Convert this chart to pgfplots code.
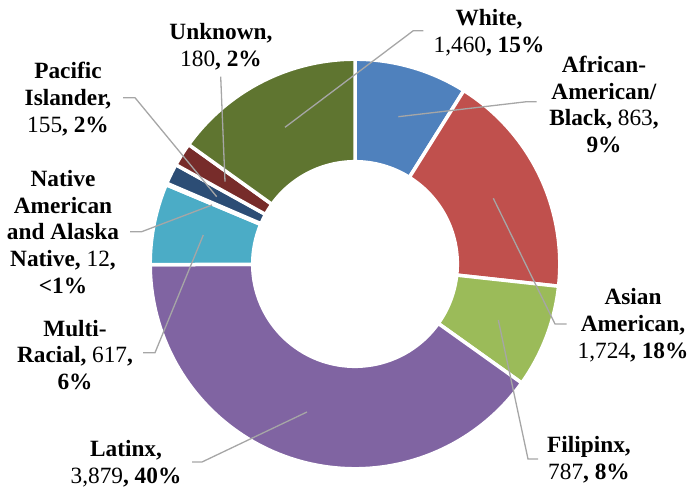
\documentclass[border=0pt]{standalone}
\usepackage{pgfplots}
\usepackage{pgfplotstable}
\pgfplotsset{compat=1.18}
\usepackage{fontspec}
\setmainfont{Liberation Serif}

\definecolor{cBlue}{HTML}{4F81BD}
\definecolor{cRed}{HTML}{C0504D}
\definecolor{cGreen}{HTML}{9BBB59}
\definecolor{cPurple}{HTML}{8064A2}
\definecolor{cCyan}{HTML}{4BACC6}
\definecolor{cOrange}{HTML}{F79646}
\definecolor{cDBlue}{HTML}{2C4D75}
\definecolor{cDRed}{HTML}{772C2A}
\definecolor{cOlive}{HTML}{5F7530}
\definecolor{leader}{HTML}{A6A6A6}

\tikzset{lbl/.style={align=center, inner sep=0pt, font={\fontsize{23.4pt}{27pt}\selectfont}},
         ldr/.style={leader, line width=1.3bp}}

% Students by race/ethnicity, clockwise from 12 o'clock
\pgfplotstableread{
name value
African 863
Asian 1724
Filipinx 787
Latinx 3879
Multi 617
Native 12
Pacific 155
Unknown 180
White 1460
}\racetable

\def\cx{355}
\def\cy{227}
\def\Rout{204.8}
\def\Rin{102.3}

\newcommand\slice[3]{%
  \edef\lo{\csname ang#2\endcsname}\edef\hi{\csname ang#1\endcsname}%
  \edef\temp{\noexpand\addplot[fill=#3, draw=white, line width=3.5bp, line join=miter, domain=\lo:\hi, samples=90, variable=\noexpand\t, no markers]
    ({\cx+\Rout*cos(\noexpand\t)},{\cy+\Rout*sin(\noexpand\t)})
    -- (axis cs:{\cx+\Rin*cos(\hi)},{\cy+\Rin*sin(\hi)})
    arc[start angle=\hi, end angle=\lo, radius=\Rin bp] -- cycle;}%
  \temp}

\begin{document}
\def\cumval{0}%
\pgfplotsforeachungrouped \i in {0,...,8}{%
  \pgfplotstablegetelem{\i}{value}\of\racetable
  \pgfmathsetmacro\cumval{\cumval+\pgfplotsretval}%
  \expandafter\xdef\csname cum\i\endcsname{\cumval}%
}%
\xdef\total{\cumval}%
\expandafter\xdef\csname ang0\endcsname{90}%
\pgfplotsforeachungrouped \i in {0,...,8}{%
  \pgfmathsetmacro\frac{\csname cum\i\endcsname/\total}%
  \pgfmathsetmacro\tmp{90-360*\frac}%
  \pgfmathtruncatemacro\j{\i+1}%
  \expandafter\xdef\csname ang\j\endcsname{\tmp}%
}%
\begin{tikzpicture}
\begin{axis}[
  at={(0,0)}, anchor=south west,
  width=691bp, height=491bp, scale only axis,
  xmin=0, xmax=691, ymin=0, ymax=491,
  enlargelimits=false, hide axis, clip=false,
]
\slice{0}{1}{cBlue}
\slice{1}{2}{cRed}
\slice{2}{3}{cGreen}
\slice{3}{4}{cPurple}
\slice{4}{5}{cCyan}
\slice{5}{6}{cOrange}
\slice{6}{7}{cDBlue}
\slice{7}{8}{cDRed}
\slice{8}{9}{cOlive}

% leader lines
\draw[ldr] (axis cs:423.3,460.3) -- (axis cs:413.3,460.3) -- (axis cs:285,363.7);
\draw[ldr] (axis cs:536.7,389.3) -- (axis cs:526.7,389.3) -- (axis cs:398.3,374.3);
\draw[ldr] (axis cs:566.7,167) -- (axis cs:555,167) -- (axis cs:493.3,292.7);
\draw[ldr] (axis cs:538,32) -- (axis cs:528,32) -- (axis cs:498.3,171);
\draw[ldr] (axis cs:192,29) -- (axis cs:202,29) -- (axis cs:307,79);
\draw[ldr] (axis cs:143,138.3) -- (axis cs:155,138.3) -- (axis cs:203.3,256);
\draw[ldr] (axis cs:130,259.3) -- (axis cs:141.7,259.3) -- (axis cs:212,286);
\draw[ldr] (axis cs:123,393.3) -- (axis cs:135,393.3) -- (axis cs:216.7,294.3);
\draw[ldr] (axis cs:220.7,414.3) -- (axis cs:225,309.3);

% labels
\node[lbl] at (axis cs:489,458.5) {\textbf{White,}\\1,460\textbf{, 15\%}};
\node[lbl] at (axis cs:604,386.5) {\textbf{African-}\\\textbf{American/}\\\textbf{Black,} 863\textbf{,}\\\textbf{9\%}};
\node[lbl] at (axis cs:633,166) {\textbf{Asian}\\\textbf{American,}\\1,724\textbf{, 18\%}};
\node[lbl] at (axis cs:589,31) {\textbf{Filipinx,}\\787\textbf{, 8\%}};
\node[lbl] at (axis cs:126,27.5) {\textbf{Latinx,}\\3,879\textbf{, 40\%}};
\node[lbl] at (axis cs:75,136) {\textbf{Multi-}\\\textbf{Racial,} 617\textbf{,}\\\textbf{6\%}};
\node[lbl] at (axis cs:63,259) {\textbf{Native}\\\textbf{American}\\\textbf{and Alaska}\\\textbf{Native,} 12\textbf{,}\\\textbf{<1\%}};
\node[lbl] at (axis cs:68,391.5) {\textbf{Pacific}\\\textbf{Islander,}\\155\textbf{, 2\%}};
\node[lbl] at (axis cs:221,444.5) {\textbf{Unknown,}\\180\textbf{, 2\%}};
\end{axis}
\pgfresetboundingbox
\path (0,0) rectangle (691bp,491bp);
\end{tikzpicture}
\end{document}
